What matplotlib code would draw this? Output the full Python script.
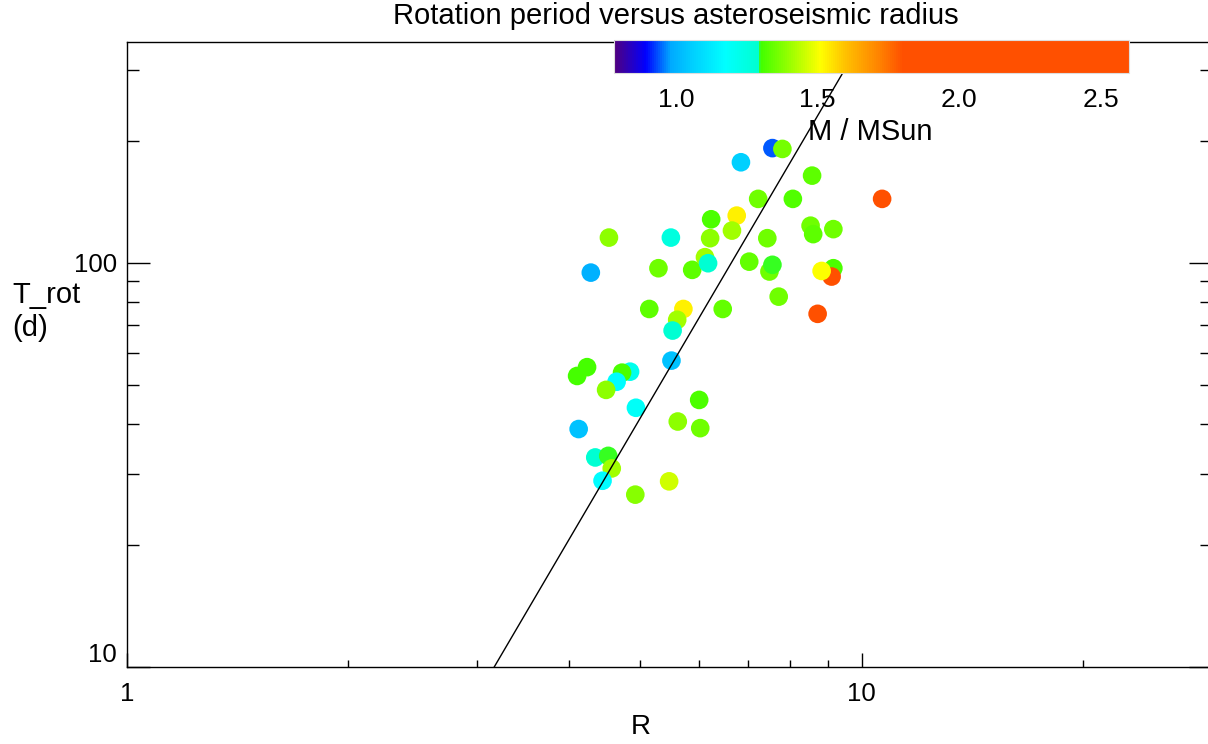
import matplotlib
matplotlib.use("Agg")
import matplotlib.pyplot as plt
import numpy as np
from matplotlib.colors import LinearSegmentedColormap, Normalize
from matplotlib.colorbar import ColorbarBase
from matplotlib.ticker import FixedLocator, NullFormatter

plt.rcParams['font.family'] = ['Liberation Sans', 'DejaVu Sans']

# radius (R_sun), rotation period (d), mass (M_sun), in drawing order
radius = [4.28, 4.53, 5.50, 6.85, 7.56, 7.80, 8.56, 10.66, 7.23, 8.06,
          6.24, 6.76, 6.66, 6.22, 7.44, 8.52, 8.59, 9.15, 5.29, 5.88,
          6.12, 6.18, 7.03, 7.49, 7.56, 9.15, 9.10, 8.82, 8.71, 7.71,
          6.47, 5.14, 5.72, 5.61, 5.53, 5.51, 4.23, 4.10, 4.84, 4.72,
          4.64, 4.49, 4.93, 6.01, 4.12, 5.62, 6.03, 4.34, 4.52, 4.57,
          4.44, 4.92, 5.47]
t_rot = [94.6, 115.5, 115.5, 177.4, 192.3, 191.4, 164.4, 144.0, 144.0, 144.0,
         128.2, 130.9, 120.2, 115.1, 115.1, 123.6, 117.8, 121.2, 97.0, 96.1,
         103.3, 99.8, 100.7, 95.2, 98.9, 97.0, 92.5, 95.5, 74.8, 82.5,
         76.9, 76.9, 76.9, 72.3, 68.0, 57.3, 55.2, 52.5, 53.8, 53.5,
         50.8, 48.5, 43.8, 45.8, 38.8, 40.5, 39.0, 33.0, 33.3, 31.0,
         28.9, 26.7, 28.8]
mass = [1.00, 1.39, 1.25, 1.06, 0.94, 1.36, 1.33, 2.60, 1.35, 1.32,
        1.31, 1.53, 1.41, 1.39, 1.35, 1.35, 1.33, 1.35, 1.35, 1.33,
        1.41, 1.28, 1.34, 1.35, 1.294, 1.31, 1.90, 1.51, 2.10, 1.35,
        1.34, 1.33, 1.53, 1.41, 1.28, 1.03, 1.30, 1.30, 1.22, 1.31,
        1.17, 1.39, 1.19, 1.31, 1.03, 1.39, 1.35, 1.28, 1.292, 1.41,
        1.17, 1.38, 1.46]

# power-law line: log10(T) = slope*log10(R) + icpt
slope = 3.1
icpt = -0.55

# colour table stops (mass value, colour)
cstops = [(0.78, '#500080'), (0.89, '#0000ff'), (0.98, '#00aaff'), (1.05, '#00ccff'),
          (1.17, '#00ffff'), (1.288, '#00ffd0'), (1.295, '#40ff00'), (1.39, '#90ff00'),
          (1.51, '#ffff00'), (1.60, '#ffc000'), (1.72, '#ff8000'), (1.80, '#ff5000'),
          (2.60, '#ff5000')]
vmin, vmax = cstops[0][0], cstops[-1][0]
cmap = LinearSegmentedColormap.from_list(
    'idl', [((v - vmin) / (vmax - vmin), c) for v, c in cstops])
norm = Normalize(vmin=vmin, vmax=vmax)

W, H = 1208, 744
fig = plt.figure(figsize=(W / 100, H / 100), dpi=100)
ax = fig.add_axes([126.7 / W, 1 - 667 / H, (1212.4 - 126.7) / W, 625 / H])

ax.scatter(radius, t_rot, c=mass, cmap=cmap, norm=norm, s=180, marker='o',
           edgecolors='none', zorder=2)

xl = np.array([1.0, 30.0])
ax.plot(xl, 10 ** (slope * np.log10(xl) + icpt), color='black', lw=1.0, zorder=3)

ax.set_xscale('log')
ax.set_yscale('log')
ax.set_xlim(1, 30)
ax.set_ylim(10, 352)

ax.xaxis.set_major_locator(FixedLocator([1, 10]))
ax.xaxis.set_minor_locator(FixedLocator([2, 3, 4, 5, 6, 7, 8, 9, 20]))
ax.yaxis.set_major_locator(FixedLocator([10, 100]))
ax.yaxis.set_minor_locator(FixedLocator([20, 30, 40, 50, 60, 70, 80, 90, 200, 300]))
ax.set_xticklabels(['1', '10'])
ax.set_yticklabels(['10', '100'])
ax.xaxis.set_minor_formatter(NullFormatter())
ax.yaxis.set_minor_formatter(NullFormatter())
ax.get_yticklabels()[0].set_verticalalignment('bottom')

ax.tick_params(axis='x', which='major', direction='in', length=10, width=1, labelsize=18.5, pad=11, top=False)
ax.tick_params(axis='x', which='minor', direction='in', length=5, width=1, top=False)
ax.tick_params(axis='y', which='major', direction='in', length=16.5, width=1, labelsize=18.5, pad=7, right=True)
ax.tick_params(axis='y', which='minor', direction='in', length=8.5, width=1, right=True)
for sp in ax.spines.values():
    sp.set_linewidth(1.0)

# colour bar drawn over the plot
cax = fig.add_axes([614 / W, 1 - 73 / H, 515 / W, 33 / H], zorder=5)
cb = ColorbarBase(cax, cmap=cmap, norm=norm, orientation='horizontal')
cb.set_ticks([1.0, 1.5, 2.0, 2.5])
cb.set_ticklabels(['1.0', '1.5', '2.0', '2.5'])
cax.tick_params(axis='x', length=0, labelsize=19, pad=11)
cb.outline.set_edgecolor('#dddddd')
cb.outline.set_linewidth(0.8)

fig.text(870 / W, 1 - 132 / H, 'M / MSun', ha='center', va='center', fontsize=21)
fig.text(676 / W, 1 - 16 / H, 'Rotation period versus asteroseismic radius',
         ha='center', va='center', fontsize=21)
fig.text(12 / W, 1 - 295 / H, 'T_rot', ha='left', va='center', fontsize=21)
fig.text(12 / W, 1 - 328 / H, '(d)', ha='left', va='center', fontsize=21)
fig.text(641 / W, 1 - 727 / H, 'R', ha='center', va='center', fontsize=20)

fig.savefig('out.png', dpi=100)
